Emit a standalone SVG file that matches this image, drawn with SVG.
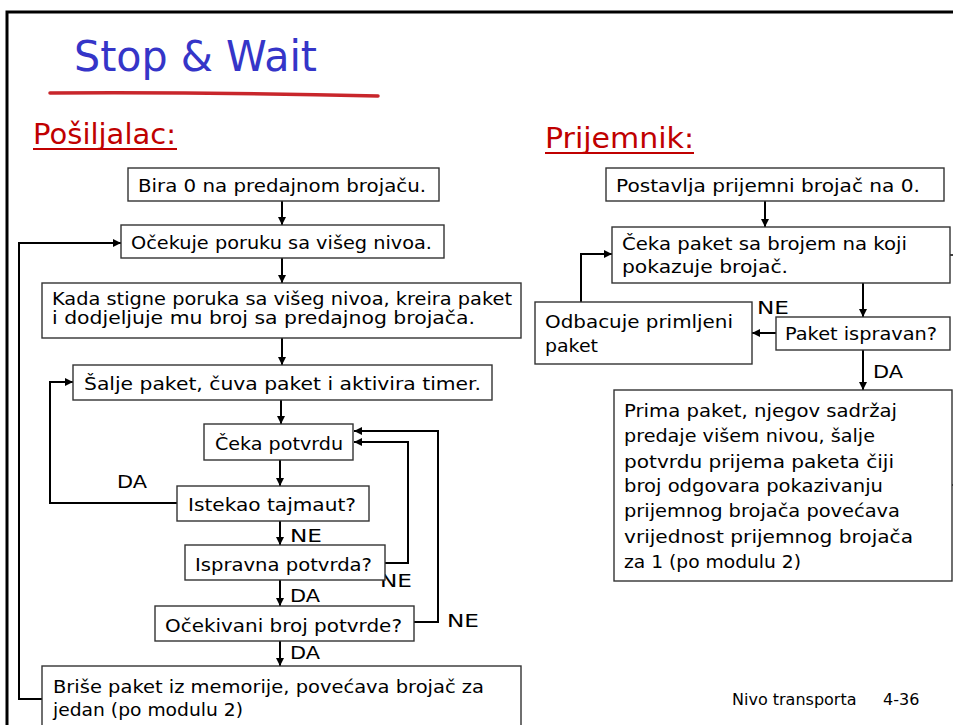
<svg xmlns="http://www.w3.org/2000/svg" width="953" height="725" viewBox="0 0 953 725">
  <defs>
    <marker id="arrow" viewBox="0 0 10 10" refX="10" refY="5" markerWidth="8" markerHeight="8" markerUnits="userSpaceOnUse" orient="auto">
      <path d="M0,0 L10,5 L0,10 z" fill="#000"/>
    </marker>
    <style>
      .box { fill: #fff; stroke: #333; stroke-width: 1.4; }
      .t { font-family: "DejaVu Sans", "Liberation Sans", sans-serif; font-size: 18.5px; fill: #000; }
      .lbl { font-family: "DejaVu Sans", "Liberation Sans", sans-serif; font-size: 18.5px; fill: #000; }
      .head { font-family: "DejaVu Sans", "Liberation Sans", sans-serif; font-size: 28px; fill: #c00000; }
      .title { font-family: "DejaVu Sans", "Liberation Sans", sans-serif; font-size: 42px; fill: #3535c8; }
      .foot { font-family: "DejaVu Sans", "Liberation Sans", sans-serif; font-size: 16px; fill: #000; }
      .wire { fill: none; stroke: #000; stroke-width: 2; }
      .frame { fill: none; stroke: #000; stroke-width: 3; }
    </style>
  </defs>

  <rect width="953" height="725" fill="#fff"/>

  <!-- slide frame -->
  <path class="frame" d="M7,725 V12 H953"/>

  <!-- title -->
  <g id="title">
    <text class="title" x="74" y="71" textLength="243" lengthAdjust="spacingAndGlyphs">Stop &amp; Wait</text>
    <path d="M50,93 Q210,92 378,96" fill="none" stroke="#c8262b" stroke-width="3.5" stroke-linecap="round"/>
  </g>

  <!-- section headings -->
  <g id="head-sender">
    <text class="head" x="33" y="144" textLength="143" lengthAdjust="spacingAndGlyphs">Pošiljalac:</text>
    <line x1="33" y1="149" x2="177" y2="149" stroke="#c00000" stroke-width="2"/>
  </g>
  <g id="head-receiver">
    <text class="head" x="545" y="148" textLength="149" lengthAdjust="spacingAndGlyphs">Prijemnik:</text>
    <line x1="545" y1="153" x2="694" y2="153" stroke="#c00000" stroke-width="2"/>
  </g>

  <!-- connectors -->
  <g id="connectors">
    <!-- sender main flow -->
    <line class="wire" x1="282" y1="201" x2="282" y2="225" marker-end="url(#arrow)"/>
    <line class="wire" x1="282" y1="258" x2="282" y2="283" marker-end="url(#arrow)"/>
    <line class="wire" x1="282" y1="338" x2="282" y2="365" marker-end="url(#arrow)"/>
    <line class="wire" x1="281" y1="400" x2="281" y2="424" marker-end="url(#arrow)"/>
    <line class="wire" x1="280" y1="460" x2="280" y2="486" marker-end="url(#arrow)"/>
    <line class="wire" x1="280" y1="521" x2="280" y2="545" marker-end="url(#arrow)"/>
    <line class="wire" x1="280" y1="580" x2="280" y2="606" marker-end="url(#arrow)"/>
    <line class="wire" x1="280" y1="641" x2="280" y2="666" marker-end="url(#arrow)"/>
    <!-- timeout: resend -->
    <path class="wire" d="M177,503 H50 V382 H73" marker-end="url(#arrow)"/>
    <!-- bad ack: keep waiting -->
    <path class="wire" d="M385,563 H408 V442 H354" marker-end="url(#arrow)"/>
    <!-- wrong ack number: keep waiting -->
    <path class="wire" d="M414,622 H438 V431 H354" marker-end="url(#arrow)"/>
    <!-- packet done: next message -->
    <path class="wire" d="M42,699 H19 V243 H121" marker-end="url(#arrow)"/>

    <!-- receiver flow -->
    <line class="wire" x1="765" y1="201" x2="765" y2="227" marker-end="url(#arrow)"/>
    <line class="wire" x1="863" y1="283" x2="863" y2="317" marker-end="url(#arrow)"/>
    <line class="wire" x1="863" y1="350" x2="863" y2="390" marker-end="url(#arrow)"/>
    <line class="wire" x1="776" y1="333" x2="752" y2="333" marker-end="url(#arrow)"/>
    <path class="wire" d="M581,302 V254 H612" marker-end="url(#arrow)"/>
    <!-- stubs leaving to the right -->
    <line x1="950" y1="255" x2="953" y2="255" stroke="#000" stroke-width="1.5"/>
    <line x1="950" y1="485" x2="953" y2="485" stroke="#000" stroke-width="1.5"/>
  </g>

  <!-- connector labels -->
  <g id="labels">
    <text class="lbl" x="117" y="488" textLength="30" lengthAdjust="spacingAndGlyphs">DA</text>
    <text class="lbl" x="290" y="542" textLength="32" lengthAdjust="spacingAndGlyphs">NE</text>
    <text class="lbl" x="380" y="587" textLength="32" lengthAdjust="spacingAndGlyphs">NE</text>
    <text class="lbl" x="290" y="602" textLength="30" lengthAdjust="spacingAndGlyphs">DA</text>
    <text class="lbl" x="447" y="627" textLength="32" lengthAdjust="spacingAndGlyphs">NE</text>
    <text class="lbl" x="290" y="659" textLength="30" lengthAdjust="spacingAndGlyphs">DA</text>
    <text class="lbl" x="757" y="314" textLength="32" lengthAdjust="spacingAndGlyphs">NE</text>
    <text class="lbl" x="873" y="378" textLength="30" lengthAdjust="spacingAndGlyphs">DA</text>
  </g>

  <!-- sender nodes -->
  <g id="s-init">
    <rect class="box" x="128" y="168" width="311" height="33"/>
    <text class="t" x="138" y="192" textLength="288" lengthAdjust="spacingAndGlyphs">Bira 0 na predajnom brojaču.</text>
  </g>
  <g id="s-wait-msg">
    <rect class="box" x="121" y="225" width="323" height="33"/>
    <text class="t" x="131" y="249" textLength="301" lengthAdjust="spacingAndGlyphs">Očekuje poruku sa višeg nivoa.</text>
  </g>
  <g id="s-make-pkt">
    <rect class="box" x="42" y="283" width="479" height="55"/>
    <text class="t" x="52" y="305" textLength="460" lengthAdjust="spacingAndGlyphs">Kada stigne poruka sa višeg nivoa, kreira paket</text>
    <text class="t" x="52" y="324" textLength="423" lengthAdjust="spacingAndGlyphs">i dodjeljuje mu broj sa predajnog brojača.</text>
  </g>
  <g id="s-send">
    <rect class="box" x="73" y="365" width="419" height="35"/>
    <text class="t" x="84" y="390" textLength="397" lengthAdjust="spacingAndGlyphs">Šalje paket, čuva paket i aktivira timer.</text>
  </g>
  <g id="s-wait-ack">
    <rect class="box" x="204" y="424" width="149" height="36"/>
    <text class="t" x="215" y="450" textLength="128" lengthAdjust="spacingAndGlyphs">Čeka potvrdu</text>
  </g>
  <g id="s-timeout">
    <rect class="box" x="177" y="486" width="192" height="35"/>
    <text class="t" x="188" y="511" textLength="168" lengthAdjust="spacingAndGlyphs">Istekao tajmaut?</text>
  </g>
  <g id="s-ack-ok">
    <rect class="box" x="185" y="545" width="200" height="35"/>
    <text class="t" x="195" y="571" textLength="177" lengthAdjust="spacingAndGlyphs">Ispravna potvrda?</text>
  </g>
  <g id="s-ack-num">
    <rect class="box" x="155" y="606" width="259" height="35"/>
    <text class="t" x="165" y="632" textLength="237" lengthAdjust="spacingAndGlyphs">Očekivani broj potvrde?</text>
  </g>
  <g id="s-release">
    <rect class="box" x="42" y="666" width="479" height="70"/>
    <text class="t" x="53" y="693" textLength="431" lengthAdjust="spacingAndGlyphs">Briše paket iz memorije, povećava brojač za</text>
    <text class="t" x="53" y="716" textLength="190" lengthAdjust="spacingAndGlyphs">jedan (po modulu 2)</text>
  </g>

  <!-- receiver nodes -->
  <g id="r-init">
    <rect class="box" x="606" y="168" width="338" height="33"/>
    <text class="t" x="616" y="192" textLength="304" lengthAdjust="spacingAndGlyphs">Postavlja prijemni brojač na 0.</text>
  </g>
  <g id="r-wait">
    <rect class="box" x="612" y="227" width="338" height="56"/>
    <text class="t" x="622" y="250" textLength="285" lengthAdjust="spacingAndGlyphs">Čeka paket sa brojem na koji</text>
    <text class="t" x="622" y="273" textLength="166" lengthAdjust="spacingAndGlyphs">pokazuje brojač.</text>
  </g>
  <g id="r-check">
    <rect class="box" x="776" y="317" width="174" height="33"/>
    <text class="t" x="785" y="340" textLength="152" lengthAdjust="spacingAndGlyphs">Paket ispravan?</text>
  </g>
  <g id="r-drop">
    <rect class="box" x="535" y="302" width="217" height="62"/>
    <text class="t" x="545" y="328" textLength="188" lengthAdjust="spacingAndGlyphs">Odbacuje primljeni</text>
    <text class="t" x="545" y="352" textLength="53" lengthAdjust="spacingAndGlyphs">paket</text>
  </g>
  <g id="r-accept">
    <rect class="box" x="614" y="390" width="338" height="191"/>
    <text class="t" x="624" y="417" textLength="273" lengthAdjust="spacingAndGlyphs">Prima paket, njegov sadržaj</text>
    <text class="t" x="624" y="442" textLength="251" lengthAdjust="spacingAndGlyphs">predaje višem nivou, šalje</text>
    <text class="t" x="624" y="468" textLength="270" lengthAdjust="spacingAndGlyphs">potvrdu prijema paketa čiji</text>
    <text class="t" x="624" y="492" textLength="259" lengthAdjust="spacingAndGlyphs">broj odgovara pokazivanju</text>
    <text class="t" x="624" y="517" textLength="276" lengthAdjust="spacingAndGlyphs">prijemnog brojača povećava</text>
    <text class="t" x="624" y="543" textLength="289" lengthAdjust="spacingAndGlyphs">vrijednost prijemnog brojača</text>
    <text class="t" x="624" y="568" textLength="177" lengthAdjust="spacingAndGlyphs">za 1 (po modulu 2)</text>
  </g>

  <!-- footer -->
  <g id="footer">
    <text class="foot" x="732" y="705">Nivo transporta</text>
    <text class="foot" x="883" y="705">4-36</text>
  </g>
</svg>
